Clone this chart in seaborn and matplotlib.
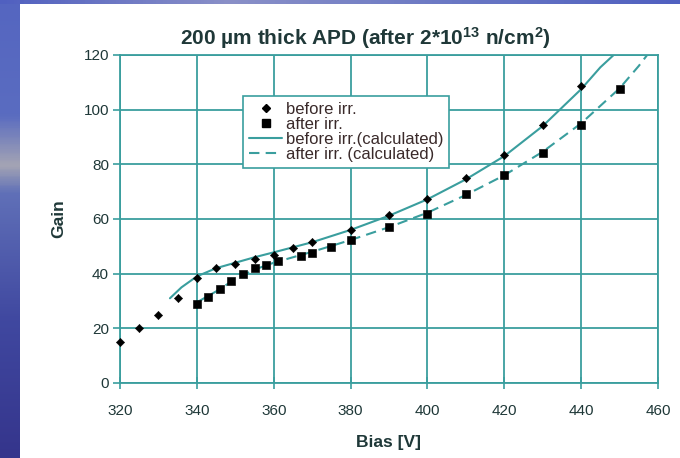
import numpy as np
import pandas as pd
import matplotlib
matplotlib.use("Agg")
import matplotlib.pyplot as plt
from matplotlib.colors import LinearSegmentedColormap
from matplotlib.lines import Line2D
import seaborn as sns

# ---- data ----
bias_before = [320, 325, 330, 335, 340, 345, 350, 355, 360, 365, 370, 380, 390, 400, 410, 420, 430, 440]
gain_before = [15, 20, 25, 31, 38.5, 42, 43.5, 45.5, 47, 49.5, 51.5, 56, 61.5, 67.5, 75, 83.5, 94.5, 108.5]

bias_after = [340, 343, 346, 349, 352, 355, 358, 361, 367, 370, 375, 380, 390, 400, 410, 420, 430, 440, 450]
gain_after = [29, 31.5, 34.5, 37.5, 40, 42, 43.2, 44.5, 46.5, 47.5, 49.8, 52.3, 57, 62, 69.2, 76, 84.3, 94.5, 107.5]

calc_before_bias = [333, 336, 340, 345, 350, 355, 360, 370, 380, 390, 400, 410, 420, 430, 440, 445, 450]
calc_before_gain = [31, 35, 39, 42, 44, 46, 47.8, 51.5, 56, 61.2, 67.2, 74.5, 83, 94, 107.5, 115.5, 122]

calc_after_bias = [340, 345, 350, 355, 360, 370, 380, 390, 400, 410, 420, 430, 440, 450, 455, 458]
calc_after_gain = [29.5, 33.5, 38, 41.5, 44, 48, 52.3, 57, 62.3, 68.8, 76, 84.6, 95, 107.8, 116, 121.5]

x_ticks = [320, 340, 360, 380, 400, 420, 440, 460]
y_ticks = [0, 20, 40, 60, 80, 100, 120]
title = "200 \u00b5m thick APD (after 2*10$^{13}$ n/cm$^{2}$)"

sns.set_theme(style="white")
plt.rcParams['font.family'] = ['Liberation Sans', 'DejaVu Sans']
plt.rcParams['mathtext.fontset'] = 'custom'
plt.rcParams['mathtext.rm'] = 'Liberation Sans:bold'
plt.rcParams['mathtext.it'] = 'Liberation Sans:bold'
plt.rcParams['mathtext.bf'] = 'Liberation Sans:bold'

TXT = '#1f3838'
GRID = '#3a9e9e'

fig = plt.figure(figsize=(6.8, 4.58), dpi=100, facecolor='white')

# decorative blue stripes (slide background)
cmap = LinearSegmentedColormap.from_list(
    'bg', [(0, '#5566c0'), (0.25, '#5a6cc0'), (0.36, '#a4a4b4'), (0.42, '#6070b8'),
           (0.7, '#4048a0'), (1, '#35358c')])
axl = fig.add_axes([0, 0, 20 / 680, 1])
axl.imshow(np.linspace(0, 1, 200).reshape(-1, 1), aspect='auto', cmap=cmap)
axl.axis('off')
cmap2 = LinearSegmentedColormap.from_list('bg2', ['#5060c0', '#8a90c8', '#6a78c4', '#5060c0'])
axt = fig.add_axes([0, 1 - 4 / 458, 1, 4 / 458])
axt.imshow(np.linspace(0, 1, 200).reshape(1, -1), aspect='auto', cmap=cmap2)
axt.axis('off')

ax = fig.add_axes([120 / 680, 75 / 458, 538 / 680, 328 / 458])

df_b = pd.DataFrame({'Bias': bias_before, 'Gain': gain_before})
df_a = pd.DataFrame({'Bias': bias_after, 'Gain': gain_after})
df_cb = pd.DataFrame({'Bias': calc_before_bias, 'Gain': calc_before_gain})
df_ca = pd.DataFrame({'Bias': calc_after_bias, 'Gain': calc_after_gain})

sns.lineplot(data=df_cb, x='Bias', y='Gain', ax=ax, color=GRID, lw=1.5, sort=False, zorder=3)
sns.lineplot(data=df_ca, x='Bias', y='Gain', ax=ax, color=GRID, lw=1.5, sort=False, zorder=3,
             linestyle=(0, (5, 3)))
sns.scatterplot(data=df_b, x='Bias', y='Gain', ax=ax, marker='D', s=18, color='black',
                edgecolor='black', zorder=4, clip_on=False)
sns.scatterplot(data=df_a, x='Bias', y='Gain', ax=ax, marker='s', s=30, color='black',
                edgecolor='black', zorder=4, clip_on=False)

ax.set_xlim(320, 460)
ax.set_ylim(0, 120)
ax.set_xticks(x_ticks)
ax.set_yticks(y_ticks)
ax.set_xticklabels([str(v) for v in x_ticks])
ax.set_yticklabels([str(v) for v in y_ticks])
ax.grid(True, color=GRID, lw=1.3)
ax.set_axisbelow(True)
for s in ax.spines.values():
    s.set_color(GRID)
    s.set_linewidth(1.3)
ax.tick_params(axis='x', direction='inout', length=8, width=1.2, color=GRID,
               labelsize=11, labelcolor=TXT, pad=11, bottom=True)
ax.tick_params(axis='y', direction='out', length=5, width=1.2, color=GRID,
               labelsize=11, labelcolor=TXT, pad=3, left=True)
ax.set_xlabel('Bias [V]', fontsize=12.5, fontweight='bold', color=TXT, labelpad=12)
ax.set_ylabel('Gain', fontsize=12.5, fontweight='bold', color=TXT, labelpad=12)
ax.set_title(title, fontsize=15, fontweight='bold', color=TXT, pad=7, x=0.457)

handles = [
    Line2D([], [], marker='D', color='black', ls='none', markersize=4.5),
    Line2D([], [], marker='s', color='black', ls='none', markersize=5.5),
    Line2D([], [], color=GRID, lw=1.5),
    Line2D([], [], color=GRID, lw=1.5, ls=(0, (5, 3))),
]
labels = ['before irr.', 'after irr.', 'before irr.(calculated)', 'after irr. (calculated)']
leg = ax.legend(handles, labels, loc='upper left', bbox_to_anchor=(0.229, 0.875),
                frameon=True, fancybox=False, fontsize=12, handlelength=2.0,
                handletextpad=0.2, labelspacing=0.0, borderpad=0.35, borderaxespad=0)
leg.get_frame().set_edgecolor(GRID)
leg.get_frame().set_linewidth(1.2)
leg.get_frame().set_facecolor('white')
leg.get_frame().set_alpha(1)
for t in leg.get_texts():
    t.set_color('#3a2a2a')

fig.savefig('out.png', dpi=100, facecolor='white')
